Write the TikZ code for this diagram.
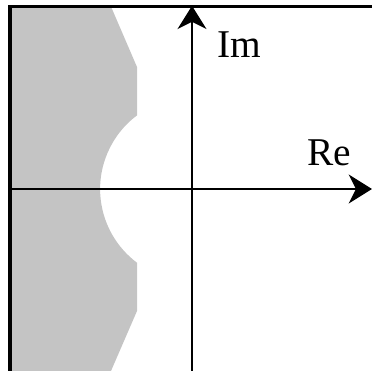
\documentclass[tikz,border=0pt]{standalone}
\usepackage{fontspec}
\setmainfont{Liberation Serif}
\usepackage{xcolor}
\usetikzlibrary{arrows.meta,positioning}

\definecolor{regiongray}{RGB}{196,196,196}

\begin{document}
\begin{tikzpicture}[
  frame/.style={draw, line width=2.4pt},
  axis/.style={draw, line width=2pt, -{Stealth[length=5.8mm, width=7.2mm, inset=1.8mm]}},
  region/.style={fill=regiongray},
  lbl/.style={font=\fontsize{28}{30}\selectfont, inner sep=0pt}]

  \useasboundingbox (-4.8,-4.55) rectangle (4.5,4.725);

  % stability region
  \path [region] (-4.55,4.56) -- (-2.025,4.56) -- (-1.375,3.05) -- (-1.375,1.84)
    arc[start angle=126.8, end angle=233.2, radius=2.3]
    -- (-1.375,-3.05) -- (-2.025,-4.55) -- (-4.55,-4.55) -- cycle;

  % frame
  \coordinate (tl) at (-4.55,4.56);
  \coordinate (tr) at (4.5,4.56);
  \coordinate (bl) at (-4.55,-4.55);
  \path [frame] (tr) -- (tl) -- (bl);

  % axes
  \coordinate (o) at (0,0);
  \coordinate (rl) at (-4.55,0);
  \coordinate (rr) at (4.5,0);
  \coordinate (ib) at (0,-4.55);
  \coordinate (it) at (0,4.58);
  \path [axis] (rl) -- (rr);
  \path [axis] (ib) -- (it);

  \node [lbl] (im) at (1.175,3.6) {Im};
  \node [lbl] (re) at (3.425,0.9) {Re};
\end{tikzpicture}
\end{document}
